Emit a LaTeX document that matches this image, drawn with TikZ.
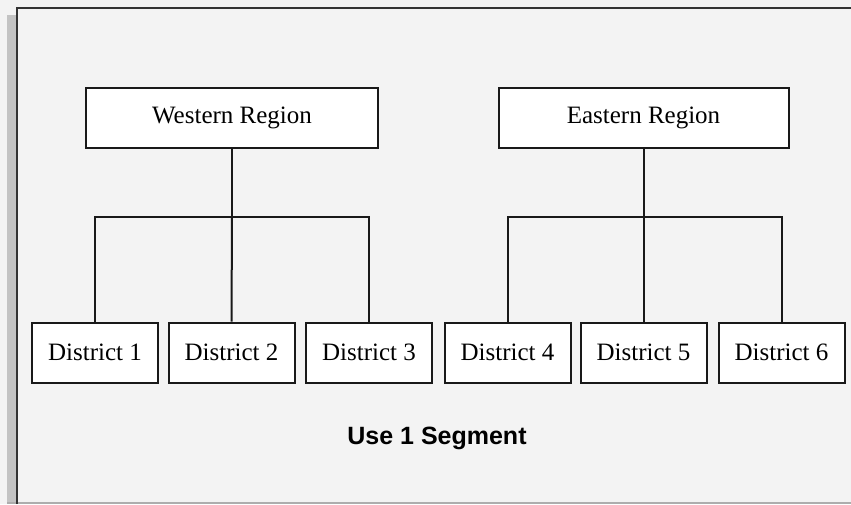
\documentclass[tikz,border=0pt]{standalone}
\usepackage{fontspec}
\setmainfont{Liberation Serif}
\newfontfamily\capfont{Liberation Sans}
\definecolor{bgfill}{HTML}{F3F3F3}
\definecolor{shadowgray}{HTML}{C3C3C3}
\definecolor{framedark}{HTML}{333333}
\definecolor{bottomgray}{HTML}{ADADAD}
\begin{document}
\begin{tikzpicture}[x=1pt,y=-1pt,
  box/.style={draw=black!90, fill=white, line width=2pt, inner sep=0pt,
    font=\fontsize{25}{29}\selectfont},
  regionbox/.style={box, minimum width=292pt, minimum height=60pt},
  distbox/.style={box, minimum width=126pt, minimum height=60pt},
  conn/.style={draw=black!90, line width=2pt}]
\useasboundingbox (0,0) rectangle (851,504);
\fill[bgfill] (0,0) rectangle (851,504);
\fill[shadowgray] (7,15) rectangle (17,504);
\fill[bottomgray] (7,502) rectangle (851,504);
\draw[framedark, line width=2pt] (17,504) -- (17,8) -- (851,8);

\node[regionbox] (W) at (232,118) {Western Region};
\node[regionbox, minimum width=290pt] (E) at (643.5,118) {Eastern Region};

\node[distbox] (d1) at (95,352.5) {District 1};
\node[distbox] (d2) at (231.5,352.5) {District 2};
\node[distbox] (d3) at (369,352.5) {District 3};
\node[distbox] (d4) at (507.5,352.5) {District 4};
\node[distbox] (d5) at (643.5,352.5) {District 5};
\node[distbox] (d6) at (781.5,352.5) {District 6};

\coordinate (wj) at (232,217);
\coordinate (ej) at (643.5,217);

\draw[conn] (W.south) -- (wj);
\draw[conn] (d1.north) |- (wj) -| (d3.north);
\draw[conn] (wj) -- (d2.north);
\draw[conn] (E.south) -- (ej);
\draw[conn] (d4.north) |- (ej) -| (d6.north);
\draw[conn] (ej) -- (d5.north);

\node[anchor=base, inner sep=0pt, font=\capfont\bfseries\fontsize{25}{30}\selectfont] (cap) at (437,444) {Use 1 Segment};
\end{tikzpicture}
\end{document}
